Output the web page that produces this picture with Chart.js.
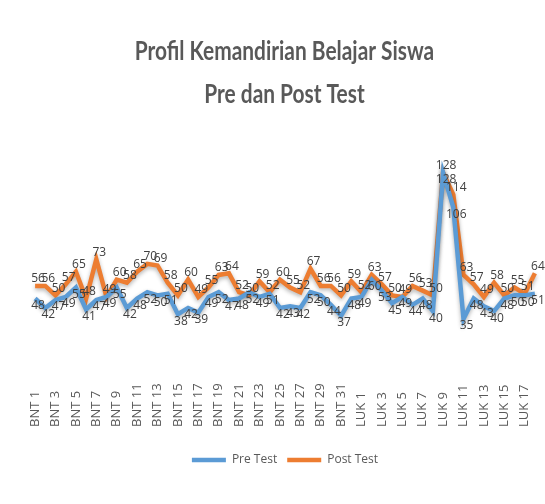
<!DOCTYPE html>
<html>
<head>
<meta charset="utf-8">
<script src="https://cdn.jsdelivr.net/npm/chart.js@4.4.1/dist/chart.umd.min.js"></script>
<style>
  body { margin: 0; background: #fff; }
  #wrap { width: 545px; height: 504px; }
</style>
</head>
<body>
<div id="wrap"><canvas id="lineChart" width="545" height="504"></canvas></div>
<script>
// categories
const categories = [
  "BNT 1","BNT 2","BNT 3","BNT 4","BNT 5","BNT 6","BNT 7","BNT 8","BNT 9","BNT 10",
  "BNT 11","BNT 12","BNT 13","BNT 14","BNT 15","BNT 16","BNT 17","BNT 18","BNT 19","BNT 20",
  "BNT 21","BNT 22","BNT 23","BNT 24","BNT 25","BNT 26","BNT 27","BNT 28","BNT 29","BNT 30",
  "BNT 31","BNT 32",
  "LUK 1","LUK 2","LUK 3","LUK 4","LUK 5","LUK 6","LUK 7","LUK 8","LUK 9","LUK 10",
  "LUK 11","LUK 12","LUK 13","LUK 14","LUK 15","LUK 16","LUK 17","LUK 18"
];

// series values
const preTest = [
  48, 42, 47, 49, 55, 41, 47, 49, 55, 42,
  48, 52, 50, 51, 38, 42, 39, 49, 52, 47,
  48, 52, 49, 51, 42, 43, 42, 52, 50, 44,
  37, 48,
  49, 60, 53, 45, 49, 44, 48, 40, 128, 106,
  35, 48, 43, 40, 48, 50, 50, 51
];
const postTest = [
  56, 56, 50, 57, 65, 48, 73, 49, 60, 58,
  65, 70, 69, 58, 50, 60, 49, 55, 63, 64,
  52, 50, 59, 52, 60, 55, 52, 67, 56, 56,
  50, 59,
  52, 63, 57, 50, 49, 56, 53, 50, 128, 114,
  63, 57, 49, 58, 50, 55, 51, 64
];

const titleLines = ["Profil Kemandirian Belajar Siswa", "Pre dan Post Test"];

// value labels: post above the line, pre below
const valueLabels = {
  id: 'valueLabels',
  afterDatasetsDraw(chart) {
    const ctx = chart.ctx;
    ctx.save();
    ctx.font = '12px "Open Sans", sans-serif';
    ctx.fillStyle = '#404040';
    ctx.textAlign = 'center';
    chart.data.datasets.forEach((ds, i) => {
      const meta = chart.getDatasetMeta(i);
      meta.data.forEach((pt, j) => {
        const above = i === 1;
        ctx.textBaseline = above ? 'bottom' : 'top';
        ctx.fillText(ds.data[j], pt.x + 3, above ? pt.y - 1 : pt.y + 1);
      });
    });
    ctx.restore();
  }
};

// category labels, rotated, starting from a common baseline
const xLabels = {
  id: 'xLabels',
  afterDraw(chart) {
    const sc = chart.scales.x;
    const ctx = chart.ctx;
    ctx.save();
    ctx.font = '13px "Open Sans", sans-serif';
    ctx.fillStyle = '#595959';
    ctx.textAlign = 'left';
    ctx.textBaseline = 'middle';
    categories.forEach((c, i) => {
      if (i % 2) return;
      ctx.save();
      ctx.translate(sc.getPixelForValue(i), 427);
      ctx.rotate(-Math.PI / 2);
      ctx.fillText(c, 0, 0);
      ctx.restore();
    });
    ctx.restore();
  }
};

// narrow, tall title drawn over the space the title plugin reserves
const narrowTitle = {
  id: 'narrowTitle',
  afterDraw(chart) {
    const ctx = chart.ctx;
    ctx.save();
    ctx.font = 'bold 24px Lato, sans-serif';
    ctx.fillStyle = '#595959';
    ctx.textAlign = 'center';
    ctx.textBaseline = 'middle';
    titleLines.forEach((t, i) => {
      ctx.save();
      ctx.translate(chart.width / 2 + 12, 52 + i * 43);
      ctx.scale(0.87, 1.08);
      ctx.fillText(t, 0, 0);
      ctx.restore();
    });
    ctx.restore();
  }
};

// soft shadow under the lines
const lineShadow = {
  id: 'lineShadow',
  beforeDatasetDraw(chart) {
    const ctx = chart.ctx;
    ctx.save();
    ctx.shadowColor = 'rgba(0,0,0,0.3)';
    ctx.shadowBlur = 4;
    ctx.shadowOffsetY = 2;
  },
  afterDatasetDraw(chart) {
    chart.ctx.restore();
  }
};

const ctx = document.getElementById('lineChart').getContext('2d');
new Chart(ctx, {
  type: 'line',
  data: {
    labels: categories,
    datasets: [
      {
        label: 'Pre Test',
        data: preTest,
        borderColor: '#5B9BD5',
        backgroundColor: '#5B9BD5',
        borderWidth: 4.5,
        pointRadius: 0,
        pointStyle: 'line',
        tension: 0
      },
      {
        label: 'Post Test',
        data: postTest,
        borderColor: '#ED7D31',
        backgroundColor: '#ED7D31',
        borderWidth: 4.5,
        pointRadius: 0,
        pointStyle: 'line',
        tension: 0
      }
    ]
  },
  options: {
    responsive: false,
    animation: false,
    layout: { padding: { left: 30, right: 5, top: 32, bottom: 28 } },
    scales: {
      x: {
        offset: true,
        grid: { display: false },
        border: { display: false },
        ticks: { display: false },
        afterFit: (scale) => { scale.height = 70; }
      },
      y: {
        display: false,
        min: 0,
        max: 140
      }
    },
    plugins: {
      title: {
        display: true,
        text: titleLines,
        color: 'rgba(0,0,0,0)',
        font: { family: 'Lato, sans-serif', size: 22, weight: 'bold', lineHeight: 1.95 },
        padding: { top: 0, bottom: 36 }
      },
      legend: {
        position: 'bottom',
        labels: {
          usePointStyle: true,
          pointStyleWidth: 34,
          color: '#595959',
          font: { family: '"Open Sans", sans-serif', size: 12 },
          padding: 10
        }
      },
      tooltip: { enabled: false }
    }
  },
  plugins: [lineShadow, valueLabels, xLabels, narrowTitle]
});
</script>
</body>
</html>
